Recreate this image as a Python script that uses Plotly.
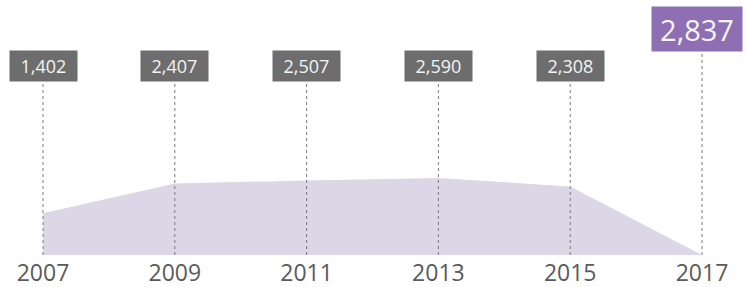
import plotly.graph_objects as go

years = [2007, 2009, 2011, 2013, 2015, 2017]
year_labels = ["2007", "2009", "2011", "2013", "2015", "2017"]
label_values = [1402, 2407, 2507, 2590, 2308, 2837]
area_values = [1402, 2407, 2507, 2590, 2308, 0]

W, H = 746, 287
base_px = 255          # baseline pixel row
px_per_unit = 77 / 2590
ymax = base_px / px_per_unit
left_px, right_px = 43, 702
ppy = (right_px - left_px) / (years[-1] - years[0])
x0 = years[0] - left_px / ppy
x1 = years[-1] + (W - right_px) / ppy

def py_to_y(py):
    return (base_px - py) / base_px * ymax

fig = go.Figure()
fig.add_trace(go.Scatter(
    x=years, y=area_values, mode="lines", fill="tozeroy",
    line=dict(width=0, color="#dcd7e7"), fillcolor="#dcd7e7",
    hoverinfo="skip", showlegend=False))

for i, (yr, v) in enumerate(zip(years, label_values)):
    last = i == len(years) - 1
    bottom = py_to_y(52 if last else 82)
    fig.add_shape(type="line", x0=yr, x1=yr, y0=0, y1=bottom,
                  xref="x", yref="y",
                  line=dict(color="#7a7a7a", width=1, dash="dot"), layer="above")
    fig.add_annotation(
        x=yr, y=bottom, xref="x", yref="y", yanchor="bottom", xanchor="center",
        text=f"{v:,}", showarrow=False,
        width=88 if last else 65, height=42 if last else 28,
        bgcolor="#8f6fb3" if last else "#6d6d6d",
        borderpad=1, xshift=-5 if last else 0,
        font=dict(family="Open Sans", size=29 if last else 18, color="#f4f4f4"))

fig.update_layout(
    width=W, height=H,
    margin=dict(l=0, r=0, t=0, b=H - base_px),
    paper_bgcolor="white", plot_bgcolor="white",
    xaxis=dict(range=[x0, x1], tickvals=years, ticktext=year_labels,
               showgrid=False, zeroline=False, showline=False, ticks="",
               tickfont=dict(family="Open Sans", size=23, color="#5a5a5a"),
               ticklabelstandoff=2,
               fixedrange=True, automargin=False),
    yaxis=dict(range=[0, ymax], visible=False, fixedrange=True),
    showlegend=False,
)
fig.write_html("out.html", config={"displayModeBar": False, "staticPlot": True})

with open("out.html", "r", encoding="utf-8") as f:
    html = f.read()
html = html.replace("<head>", "<head><style>html,body{margin:0;padding:0;overflow:hidden;}</style>", 1)
with open("out.html", "w", encoding="utf-8") as f:
    f.write(html)
